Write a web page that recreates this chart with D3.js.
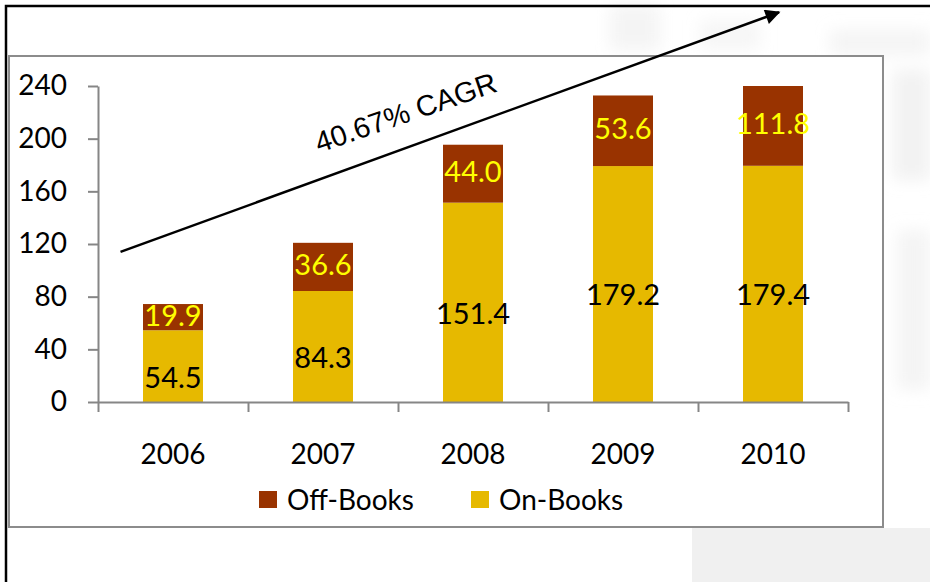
<!DOCTYPE html>
<html lang="en">

<head>
    <meta charset="UTF-8">
    <title>On-Books / Off-Books</title>
    <script src="https://d3js.org/d3.v7.min.js"></script>
    <style>
        body { margin: 0; background: #fff; }
        svg text { font-family: Lato, "Noto Sans", sans-serif; }
    </style>
</head>

<body>
    <script>
        // chart values
        const years = ["2006", "2007", "2008", "2009", "2010"];
        const onBooks = [54.5, 84.3, 151.4, 179.2, 179.4];
        const offBooks = [19.9, 36.6, 44.0, 53.6, 111.8];
        const yTicks = [0, 40, 80, 120, 160, 200, 240];
        const seriesNames = ["Off-Books", "On-Books"];
        const cagrLabel = "40.67% CAGR";
        // arrow ends, in (category position, value) units
        const arrowFrom = [0.15, 114];
        const arrowTo = [4.54, 296];

        const width = 930;
        const height = 582;
        const colors = { "Off-Books": "#993300", "On-Books": "#e6b900" };

        const svg = d3.select("body").append("svg")
            .attr("width", width)
            .attr("height", height);

        const defs = svg.append("defs");
        defs.append("filter").attr("id", "blur")
            .attr("x", "-50%").attr("y", "-50%").attr("width", "200%").attr("height", "200%")
            .append("feGaussianBlur").attr("stdDeviation", 8);
        defs.append("marker")
            .attr("id", "arrow")
            .attr("viewBox", "0 0 10 10")
            .attr("refX", 9).attr("refY", 5)
            .attr("markerWidth", 7).attr("markerHeight", 6)
            .attr("orient", "auto")
            .append("path").attr("d", "M0,0L10,5L0,10Z").attr("fill", "#000");

        // faint watermark texture behind the slide
        const wm = svg.append("g").attr("filter", "url(#blur)").attr("fill", "#e6e6e6");
        wm.append("rect").attr("x", 610).attr("y", 5).attr("width", 50).attr("height", 45).attr("opacity", 0.45);
        wm.append("rect").attr("x", 700).attr("y", 20).attr("width", 60).attr("height", 30).attr("opacity", 0.35);
        wm.append("rect").attr("x", 830).attr("y", 30).attr("width", 100).attr("height", 25).attr("opacity", 0.45);
        wm.append("rect").attr("x", 893).attr("y", 70).attr("width", 37).attr("height", 110).attr("opacity", 0.5);
        wm.append("rect").attr("x", 897).attr("y", 230).attr("width", 33).attr("height", 160).attr("opacity", 0.45);
        svg.append("rect").attr("x", 692).attr("y", 528).attr("width", 238).attr("height", 54).attr("fill", "#f0f0f0");

        // slide frame
        svg.append("rect")
            .attr("x", 9).attr("y", 56).attr("width", 874).attr("height", 471)
            .attr("fill", "#fff").attr("stroke", "#8c8c8c").attr("stroke-width", 2);
        svg.append("path")
            .attr("d", "M6,582V6H930")
            .attr("fill", "none").attr("stroke", "#000").attr("stroke-width", 2.5);

        // scales
        const x = d3.scaleBand().domain(years).range([98, 848]).paddingInner(0.6).paddingOuter(0.3);
        const xPos = d3.scaleLinear().domain([0, years.length]).range([98, 848]);
        const y = d3.scaleLinear().domain([0, 240]).range([402, 86]).clamp(true);
        const yFree = y.copy().clamp(false);

        const rows = years.map((yr, i) => ({ year: yr, on: onBooks[i], off: offBooks[i] }));
        const stack = d3.stack().keys(["on", "off"])(rows);

        // bars
        svg.append("g").selectAll("g")
            .data(stack)
            .join("g")
            .attr("fill", d => d.key === "on" ? colors["On-Books"] : colors["Off-Books"])
            .selectAll("rect")
            .data(d => d)
            .join("rect")
            .attr("x", d => x(d.data.year))
            .attr("width", x.bandwidth())
            .attr("y", d => y(d[1]))
            .attr("height", d => y(d[0]) - y(d[1]));

        // data labels (the on-books ones sit a little below centre)
        svg.append("g").selectAll("g")
            .data(stack)
            .join("g")
            .attr("fill", d => d.key === "on" ? "#000" : "#ffff00")
            .selectAll("text")
            .data(d => d.map(p => ({ p, key: d.key })))
            .join("text")
            .attr("x", d => x(d.p.data.year) + x.bandwidth() / 2)
            .attr("y", d => (y(d.p[0]) + y(d.p[1])) / 2 + (d.key === "on" ? 11 : -2))
            .attr("dy", "0.36em")
            .attr("text-anchor", "middle")
            .attr("font-size", 29)
            .text(d => d3.format(".1f")(d.p.data[d.key]));

        // axes
        const yAxis = svg.append("g")
            .attr("transform", "translate(98,0)")
            .call(d3.axisLeft(y).tickValues(yTicks).tickSize(10).tickSizeOuter(0).tickPadding(21));
        const xAxis = svg.append("g")
            .attr("transform", "translate(0,402)")
            .call(d3.axisBottom(xPos).ticks(years.length).tickSize(10).tickSizeOuter(0).tickFormat(""));
        const xLabels = svg.append("g")
            .attr("transform", "translate(0,402)")
            .call(d3.axisBottom(x).tickSize(0).tickPadding(42));
        xLabels.select(".domain").remove();

        [yAxis, xAxis].forEach(a => {
            a.selectAll(".domain, line").attr("stroke", "#868686").attr("stroke-width", 2);
        });
        [yAxis, xLabels].forEach(a => {
            a.selectAll("text").attr("font-size", 28).attr("fill", "#000")
                .style("font-family", "Lato, 'Noto Sans', sans-serif");
        });

        // legend
        const legend = svg.append("g").attr("transform", "translate(259,491)");
        const item = legend.selectAll("g")
            .data(seriesNames)
            .join("g")
            .attr("transform", (d, i) => `translate(${i * 212},0)`);
        item.append("rect").attr("width", 18).attr("height", 17).attr("fill", d => colors[d]);
        item.append("text")
            .attr("x", 28).attr("y", 9).attr("dy", "0.36em")
            .attr("font-size", 28)
            .text(d => d);

        // CAGR arrow and label
        const x1 = xPos(arrowFrom[0]), y1 = yFree(arrowFrom[1]);
        const x2 = xPos(arrowTo[0]), y2 = yFree(arrowTo[1]);
        svg.append("line")
            .attr("x1", x1).attr("y1", y1).attr("x2", x2).attr("y2", y2)
            .attr("stroke", "#000").attr("stroke-width", 2.5)
            .attr("marker-end", "url(#arrow)");
        const angle = Math.atan2(y2 - y1, x2 - x1) * 180 / Math.PI;
        svg.append("text")
            .attr("transform", `translate(409,122) rotate(${angle + 1})`)
            .attr("text-anchor", "middle")
            .attr("font-size", 29)
            .style("font-family", "'Liberation Sans', Arial, sans-serif")
            .text(cagrLabel);
    </script>
</body>

</html>
